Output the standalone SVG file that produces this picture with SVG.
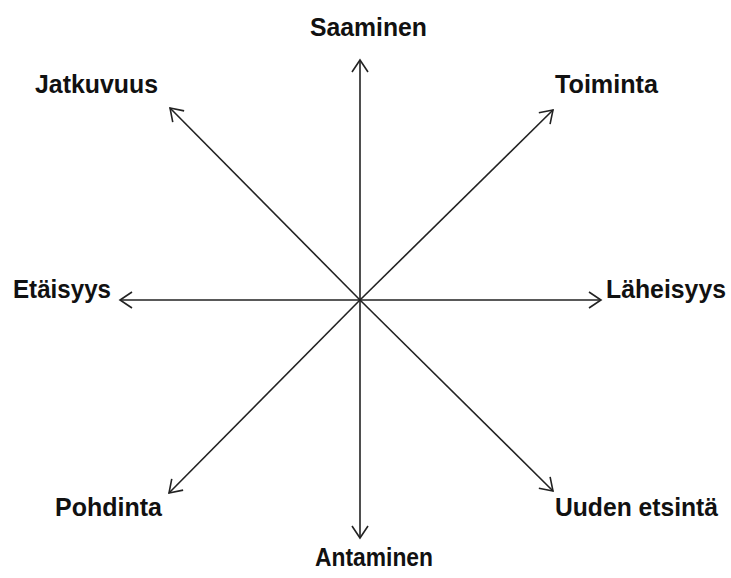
<svg xmlns="http://www.w3.org/2000/svg" width="731" height="578" viewBox="0 0 731 578">
<style>
.lbl{font-family:"Liberation Sans",Arial,sans-serif;font-weight:bold;font-size:26px;fill:#111;}
.sm{font-size:25px;}
.ax{stroke:#222;stroke-width:1.6;fill:none;marker-end:url(#ah);}
</style>
<defs>
<marker id="ah" viewBox="0 0 20 20" refX="14" refY="10" markerWidth="20" markerHeight="20" markerUnits="userSpaceOnUse" orient="auto">
<polyline points="2,2 14,10 2,18" fill="none" stroke="#222" stroke-width="1.6"/>
</marker>
</defs>
<rect width="731" height="578" fill="#fff"/>
<g id="connectors">
<line class="ax" x1="360" y1="300" x2="360" y2="60"/>
<line class="ax" x1="360" y1="300" x2="360" y2="538"/>
<line class="ax" x1="360" y1="300" x2="120" y2="300"/>
<line class="ax" x1="360" y1="300" x2="601" y2="300"/>
<line class="ax" x1="360" y1="300" x2="170" y2="108"/>
<line class="ax" x1="360" y1="300" x2="553" y2="110"/>
<line class="ax" x1="360" y1="300" x2="169" y2="493"/>
<line class="ax" x1="360" y1="300" x2="553" y2="491"/>
</g>
<g id="saaminen"><text class="lbl" x="310" y="36" textLength="117" lengthAdjust="spacingAndGlyphs">Saaminen</text></g>
<g id="jatkuvuus"><text class="lbl" x="35" y="93" textLength="123" lengthAdjust="spacingAndGlyphs">Jatkuvuus</text></g>
<g id="toiminta"><text class="lbl" x="555" y="93" textLength="103" lengthAdjust="spacingAndGlyphs">Toiminta</text></g>
<g id="etaisyys"><text class="lbl" x="13" y="298" textLength="98" lengthAdjust="spacingAndGlyphs">Etäisyys</text></g>
<g id="laheisyys"><text class="lbl sm" x="606" y="298" textLength="120" lengthAdjust="spacingAndGlyphs">Läheisyys</text></g>
<g id="pohdinta"><text class="lbl" x="55" y="516" textLength="107" lengthAdjust="spacingAndGlyphs">Pohdinta</text></g>
<g id="uuden-etsinta"><text class="lbl sm" x="555" y="516" textLength="163" lengthAdjust="spacingAndGlyphs">Uuden etsintä</text></g>
<g id="antaminen"><text class="lbl" x="315" y="566" textLength="118" lengthAdjust="spacingAndGlyphs">Antaminen</text></g>
</svg>
